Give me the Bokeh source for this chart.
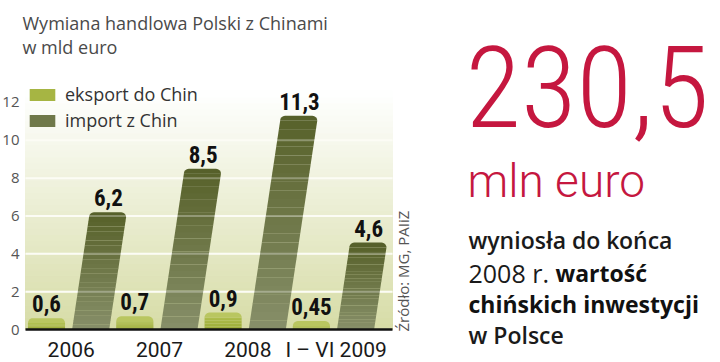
import math
from bokeh.plotting import figure
from bokeh.models import Range1d, FixedTicker, ColumnDataSource, Legend, LegendItem
from bokeh.core.properties import value
from bokeh.embed import file_html
from bokeh.resources import INLINE

# ---------------- data ----------------
categories = ["2006", "2007", "2008", "I – VI 2009"]
eksport = [0.6, 0.7, 0.9, 0.45]
import_z = [6.2, 8.5, 11.3, 4.6]
eksport_labels = ["0,6", "0,7", "0,9", "0,45"]
import_labels = ["6,2", "8,5", "11,3", "4,6"]
y_ticks = [0, 2, 4, 6, 8, 10, 12]
series_names = ["eksport do Chin", "import z Chin"]
title_lines = ["Wymiana handlowa Polski z Chinami", "w mld euro"]
source_text = "Źródło: MG, PAIiZ"
big_value = "230,5"
big_unit = "mln euro"
note_lines = ["wyniosła do końca", "w Polsce"]
note_plain = "2008 r."
note_bold = ["wartość", "chińskich inwestycji"]

# ---------------- layout constants (pixels) ----------------
W, H = 720, 362
CHART_L, CHART_R = 25, 392
Y0_PX = 329           # pixel row of value 0
S_Y = 18.917          # px per y unit
S_X = 88.3            # px per group
EXP0_PX = 46
SHIFT = 0.28          # export bar offset left of group center
BAR_W = 0.42
SKEW = 2.85 / S_X     # x-shift per y unit of the slanted import bars
BASE_FIX = 0.36       # em correction so that alphabetic baselines land where asked


def px_x(px):
    return (px - EXP0_PX) / S_X - SHIFT


def py(px):
    return (Y0_PX - px) / S_Y


def fix(size):
    return -BASE_FIX * size


def hx(c):
    c = c.lstrip("#")
    return [int(c[i:i + 2], 16) for i in (0, 2, 4)]


def lerp(c1, c2, t):
    a, b = hx(c1), hx(c2)
    return "#%02x%02x%02x" % tuple(int(round(a[k] + (b[k] - a[k]) * t)) for k in range(3))


x_start, x_end = px_x(0), px_x(W)
y_start, y_end = py(H), py(0)
cx0, cx1 = px_x(CHART_L), px_x(CHART_R)

RED = "#c5173f"
SANS = value("Open Sans")
BOLD = value("Roboto Condensed, Roboto")

p = figure(width=W, height=H,
           x_range=Range1d(x_start, x_end), y_range=Range1d(y_start, y_end),
           output_backend="svg", toolbar_location=None,
           min_border_left=0, min_border_right=0, min_border_top=0, min_border_bottom=0)
p.outline_line_color = None
p.background_fill_color = "white"
p.border_fill_color = "white"
p.grid.visible = False

# background gradient
nb = 40
top_bg = 12.6
bq = dict(bottom=[], top=[], color=[])
for k in range(nb):
    bq["bottom"].append(top_bg * k / nb)
    bq["top"].append(top_bg * (k + 1) / nb + 0.01)
    bq["color"].append(lerp("#d6dca6", "#ffffff", (k + 0.5) / nb))
p.quad(left=cx0, right=cx1, bottom="bottom", top="top", color="color",
       source=ColumnDataSource(bq), level="image")

grid_vals = y_ticks[1:-1]
p.segment(x0=cx0, x1=cx1, y0=grid_vals, y1=grid_vals, line_color="#fbfbf1",
          line_width=2, level="underlay")


def rounded_top(xl_b, xr_b, y_b, v, c_left, c_right, rx, ry, n=6):
    xs, ys = [xl_b], [y_b]
    for j in range(n + 1):
        t = math.pi - (math.pi / 2) * j / n
        xs.append(c_left + rx * math.cos(t)); ys.append(v - ry + ry * math.sin(t))
    for j in range(n + 1):
        t = math.pi / 2 - (math.pi / 2) * j / n
        xs.append(c_right + rx * math.cos(t)); ys.append(v - ry + ry * math.sin(t))
    xs.append(xr_b); ys.append(y_b)
    return xs, ys


RX = 5 / S_X
RY = 5 / S_Y
N_SL = 24

imp = dict(xs=[], ys=[], color=[])
for i, v in enumerate(import_z):
    c = i + 0.5 - SHIFT
    hb = v - RY
    for k in range(N_SL):
        y0 = hb * k / N_SL
        y1 = hb * (k + 1) / N_SL + 0.005
        imp["xs"].append([c - BAR_W / 2 + SKEW * y0, c - BAR_W / 2 + SKEW * y1,
                          c + BAR_W / 2 + SKEW * y1, c + BAR_W / 2 + SKEW * y0])
        imp["ys"].append([y0, y1, y1, y0])
        imp["color"].append(lerp("#878f69", "#58622b", (k + 0.5) / N_SL))
    xs, ys = rounded_top(c - BAR_W / 2 + SKEW * hb, c + BAR_W / 2 + SKEW * hb, hb, v,
                         c - BAR_W / 2 + SKEW * hb + RX, c + BAR_W / 2 + SKEW * hb - RX, RX, RY)
    imp["xs"].append(xs); imp["ys"].append(ys); imp["color"].append("#56602a")
r_imp = p.patches("xs", "ys", fill_color="color", line_color=None, source=ColumnDataSource(imp))

exp = dict(xs=[], ys=[], color=[])
N_E = 8
for i, v in enumerate(eksport):
    c = i - SHIFT
    hb = v - RY
    for k in range(N_E):
        y0 = hb * k / N_E
        y1 = hb * (k + 1) / N_E + 0.005
        exp["xs"].append([c - BAR_W / 2, c - BAR_W / 2, c + BAR_W / 2, c + BAR_W / 2])
        exp["ys"].append([y0, y1, y1, y0])
        exp["color"].append(lerp("#9bab37", "#aebd4c", (k + 0.5) / N_E))
    xs, ys = rounded_top(c - BAR_W / 2, c + BAR_W / 2, hb, v,
                         c - BAR_W / 2 + RX, c + BAR_W / 2 - RX, RX, RY)
    exp["xs"].append(xs); exp["ys"].append(ys); exp["color"].append("#b9c660")
r_exp = p.patches("xs", "ys", fill_color="color", line_color=None, source=ColumnDataSource(exp))

# gridlines showing through the bars
p.segment(x0=cx0, x1=cx1, y0=grid_vals, y1=grid_vals,
          line_color="white", line_alpha=0.3, line_width=2)

# value labels
LBL = 23
p.text(x=[i - SHIFT for i in range(len(eksport))], y=eksport, text=eksport_labels,
       text_font=BOLD, text_font_style="bold", text_font_size=f"{LBL}px", text_color="#111111",
       text_align="center", text_baseline="alphabetic", y_offset=-6 + fix(LBL))
p.text(x=[i + 0.5 - SHIFT + SKEW * v for i, v in enumerate(import_z)], y=import_z,
       text=import_labels, text_font=BOLD, text_font_style="bold", text_font_size=f"{LBL}px",
       text_color="#111111", text_align="center", text_baseline="alphabetic",
       y_offset=-6 + fix(LBL))

# title
p.text(x=[px_x(22)] * 2, y=[py(29), py(53)], text=title_lines,
       text_font=SANS, text_font_size="18px", text_color="#4a4a4a", text_align="left",
       text_baseline="alphabetic", y_offset=fix(18))

# axes (inside the frame)
p.yaxis.fixed_location = cx0
p.yaxis.ticker = FixedTicker(ticks=y_ticks)
p.yaxis.axis_line_color = None
p.yaxis.major_tick_line_color = None
p.yaxis.minor_tick_line_color = None
p.yaxis.major_tick_out = 0
p.yaxis.major_tick_in = 0
p.yaxis.minor_tick_out = 0
p.yaxis.major_label_text_font = "Open Sans"
p.yaxis.major_label_text_font_size = "15px"
p.yaxis.major_label_text_color = "#555555"
p.yaxis.major_label_standoff = 6

p.xaxis.fixed_location = 0
p.xaxis.bounds = (cx0, cx1)
p.xaxis.ticker = FixedTicker(ticks=list(range(len(categories))))
p.xaxis.major_label_overrides = {i: c for i, c in enumerate(categories)}
p.xaxis.axis_line_color = "#111111"
p.xaxis.axis_line_width = 2.5
p.xaxis.major_tick_line_color = None
p.xaxis.minor_tick_line_color = None
p.xaxis.major_label_text_font = "Roboto"
p.xaxis.major_label_text_font_size = "21px"
p.xaxis.major_label_text_color = "#1a1a1a"
p.xaxis.major_label_standoff = 2

# legend
legend = Legend(items=[LegendItem(label=series_names[0], renderers=[r_exp], index=4),
                       LegendItem(label=series_names[1], renderers=[r_imp], index=12)],
                location=(26, 230), orientation="vertical",
                background_fill_alpha=0, border_line_color=None,
                glyph_width=32, glyph_height=15, label_height=15,
                label_text_font="Open Sans", label_text_font_size="18px",
                label_text_color="#333333", label_standoff=7, spacing=2,
                padding=0, margin=0)
p.add_layout(legend)

# ---------------- right-hand texts ----------------
p.text(x=[px_x(402)], y=[py(331)], text=[source_text], angle=math.pi / 2, text_font=SANS,
       text_font_size="15px", text_color="#555555", text_align="left", text_baseline="middle")
p.text(x=[px_x(465)], y=[py(127)], text=[big_value],
       text_font=value("Roboto Condensed Light, Roboto Condensed"),
       text_font_size="114px", text_color=RED, text_align="left", text_baseline="alphabetic",
       y_offset=fix(114))
p.text(x=[px_x(467)], y=[py(197)], text=[big_unit], text_font=value("Roboto Light, Roboto"),
       text_font_size="46px", text_color=RED, text_align="left", text_baseline="alphabetic",
       y_offset=fix(46))
p.text(x=[px_x(468)] * 2, y=[py(248), py(343)], text=note_lines,
       text_font=value("Open Sans SemiBold, Open Sans Semibold, Open Sans"),
       text_font_size="23px", text_color="#1a1a1a", text_align="left", text_baseline="alphabetic",
       y_offset=fix(23))
p.text(x=[px_x(468)], y=[py(281)], text=[note_plain], text_font=SANS,
       text_font_size="25px", text_color="#1a1a1a", text_align="left", text_baseline="alphabetic",
       y_offset=fix(25))
p.text(x=[px_x(555), px_x(468)], y=[py(281), py(312)], text=note_bold,
       text_font=SANS, text_font_style="bold",
       text_font_size="23px", text_color="#111111", text_align="left", text_baseline="alphabetic",
       y_offset=fix(23))

open("out.html", "w").write(file_html(p, INLINE))
